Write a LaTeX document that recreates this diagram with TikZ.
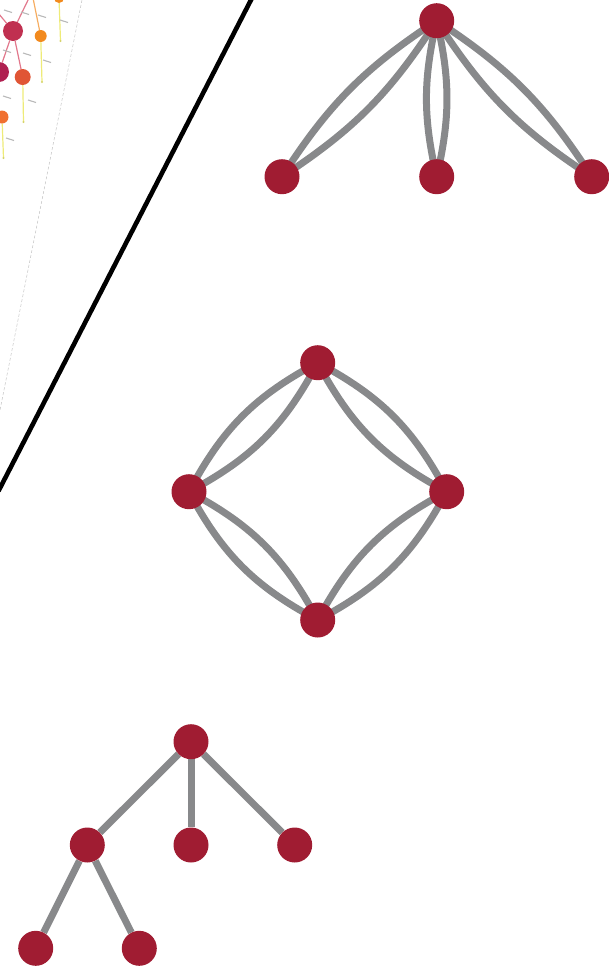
\documentclass[tikz,border=0pt]{standalone}
\usetikzlibrary{backgrounds}
\definecolor{nodered}{RGB}{160,28,50}
\definecolor{edgegray}{RGB}{136,137,139}
\definecolor{frdark}{RGB}{192,48,80}
\definecolor{frmag}{RGB}{176,32,80}
\definecolor{frorange}{RGB}{242,138,30}
\definecolor{frred}{RGB}{224,85,53}
\definecolor{frorg2}{RGB}{240,112,48}
\definecolor{frpink}{RGB}{226,120,140}
\definecolor{fryellow}{RGB}{238,235,120}
\tikzset{
  vtx/.style={circle, fill=nodered, draw=none, minimum size=35pt, inner sep=0pt},
  lnk/.style={draw=edgegray, line width=7pt},
  frnode/.style={circle, draw=none, inner sep=0pt},
  frpinkline/.style={draw=frpink, line width=1.2pt},
  fryline/.style={draw=fryellow, line width=1.2pt},
  frlabel/.style={draw=gray!55, line width=1.1pt},
}
\begin{document}
\begin{tikzpicture}[x=1pt,y=-1pt]
\useasboundingbox (0,0) rectangle (609,967);

% ---- fragment of a tree picture (top left) ----
\begin{scope}
\clip (0,0) -- (82,0) -- (0,410) -- cycle;
\node[frnode, fill=frdark, minimum size=20pt] (fa) at (13,31) {};
\node[frnode, fill=frorange, minimum size=12pt] (fb) at (40.7,36) {};
\node[frnode, fill=frmag, minimum size=20pt] (fc) at (-1,72) {};
\node[frnode, fill=frred, minimum size=16pt] (fd) at (22.7,77) {};
\node[frnode, fill=frorg2, minimum size=13pt] (fe) at (2,117) {};
\node[frnode, fill=frorange, minimum size=10pt] (ff) at (59,-2) {};
\coordinate (ft1) at (30,-4);
\coordinate (ft2) at (-6,8);
\coordinate (ft3) at (33,-2);
\coordinate (fy1) at (42,82);
\coordinate (fy2) at (60.5,41);
\coordinate (fy3) at (23.5,122);
\coordinate (fy4) at (3.5,158);
\begin{scope}[on background layer]
\draw[frpinkline] (ft1) -- (fa);
\draw[frpinkline] (ft2) -- (fa);
\draw[draw=frorange!70, line width=1.2pt] (ft3) -- (fb);
\draw[frpinkline] (fa) -- (fc);
\draw[frpinkline] (fa) -- (fd);
\draw[fryline] (fb) -- (fy1);
\draw[fryline] (ff) -- (fy2);
\draw[fryline] (fd) -- (fy3);
\draw[fryline] (fe) -- (fy4);
\end{scope}
\fill[fryellow!90!black] (fy1) circle (1.2pt) (fy2) circle (1.2pt) (fy3) circle (1.2pt) (fy4) circle (1.2pt);
\foreach \lx/\ly in {4/10, 21/12, 38/15, 60/20, 3/50, 23/53, 43/60, 3/96, 28/100, 6/138}
  \draw[frlabel] (\lx,\ly) -- ++(8,2.5);
\end{scope}
\draw[gray!45, line width=0.5pt, dash pattern=on 3pt off 2pt] (82,0) -- (0,410);

% ---- black diagonal ----
\coordinate (dtop) at (252.5,-3);
\coordinate (dbot) at (-1.5,491);
\draw[black, line width=4.6pt] (dtop) -- (dbot);

% ---- graph 1 ----
\node[vtx] (a0) at (436.7,20.7) {};
\node[vtx] (a1) at (282,176.7) {};
\node[vtx] (a2) at (436.7,176.7) {};
\node[vtx] (a3) at (591.7,176.7) {};
% ---- graph 2 ----
\node[vtx] (b0) at (317.7,362.7) {};
\node[vtx] (b1) at (189,491.7) {};
\node[vtx] (b2) at (446.7,491.7) {};
\node[vtx] (b3) at (317.7,620) {};
% ---- graph 3 ----
\node[vtx] (c0) at (191,741.7) {};
\node[vtx] (c1) at (87.3,845) {};
\node[vtx] (c2) at (191,845) {};
\node[vtx] (c3) at (294.7,845) {};
\node[vtx] (c4) at (35.7,948.3) {};
\node[vtx] (c5) at (139.3,948.3) {};

\begin{scope}[on background layer]
\draw[lnk] (a0.center) to[bend right=12] (a1.center);
\draw[lnk] (a0.center) to[bend left=12] (a1.center);
\draw[lnk] (a0.center) to[bend right=13] (a2.center);
\draw[lnk] (a0.center) to[bend left=13] (a2.center);
\draw[lnk] (a0.center) to[bend right=12] (a3.center);
\draw[lnk] (a0.center) to[bend left=12] (a3.center);

\draw[lnk] (b0.center) to[bend right=17] (b1.center);
\draw[lnk] (b0.center) to[bend left=17] (b1.center);
\draw[lnk] (b0.center) to[bend right=17] (b2.center);
\draw[lnk] (b0.center) to[bend left=17] (b2.center);
\draw[lnk] (b1.center) to[bend right=17] (b3.center);
\draw[lnk] (b1.center) to[bend left=17] (b3.center);
\draw[lnk] (b2.center) to[bend right=17] (b3.center);
\draw[lnk] (b2.center) to[bend left=17] (b3.center);

\draw[lnk] (c0) -- (c1);
\draw[lnk] (c0) -- (c2);
\draw[lnk] (c0) -- (c3);
\draw[lnk] (c1) -- (c4);
\draw[lnk] (c1) -- (c5);
\end{scope}
\end{tikzpicture}
\end{document}
